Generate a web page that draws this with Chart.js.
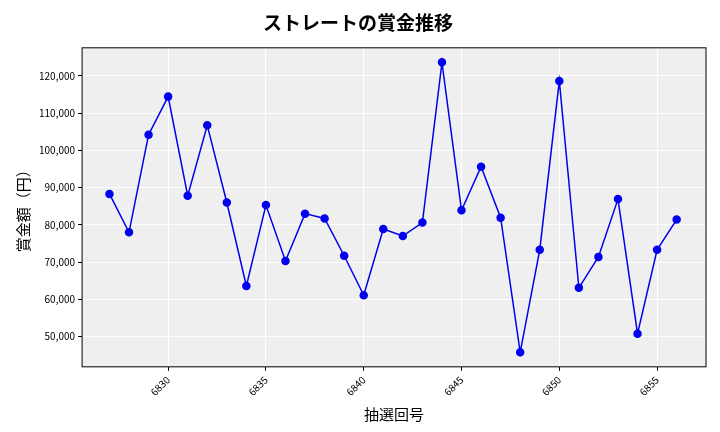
<!DOCTYPE html>
<html><head><meta charset="utf-8">
<script src="https://cdn.jsdelivr.net/npm/chart.js@4/dist/chart.umd.min.js"></script>
<style>body{margin:0;background:#fff}</style>
</head><body><canvas id="c" width="720" height="432"></canvas>
<script>
const draws = [6827,6828,6829,6830,6831,6832,6833,6834,6835,6836,6837,6838,6839,6840,6841,6842,6843,6844,6845,6846,6847,6848,6849,6850,6851,6852,6853,6854,6855,6856];
const prizes = [88300,78000,104200,114400,87800,106700,86000,63600,85300,70300,83000,81700,71700,61100,78900,77000,80600,123600,83900,95600,81900,45800,73300,118600,63100,71400,86900,50800,73300,81400];
const xTicks = [6830,6835,6840,6845,6850,6855];
const yTicks = [50000,60000,70000,80000,90000,100000,110000,120000];
const font = "'Noto Sans CJK JP', 'Noto Sans', sans-serif";

const plotBg = {
  id: 'plotBg',
  beforeDraw(chart) {
    const {ctx, chartArea: a} = chart;
    ctx.save();
    ctx.fillStyle = '#efefef';
    ctx.fillRect(a.left, a.top, a.width, a.height);
    ctx.restore();
  },
  afterDraw(chart) {
    const {ctx, chartArea: a} = chart;
    ctx.save();
    ctx.strokeStyle = '#000';
    ctx.lineWidth = 1;
    ctx.strokeRect(a.left, a.top, a.width, a.height);
    ctx.restore();
  }
};

new Chart(document.getElementById('c'), {
  type: 'line',
  data: {
    datasets: [{
      data: draws.map((d, i) => ({x: d, y: prizes[i]})),
      borderColor: '#0000ee',
      backgroundColor: '#0000ee',
      borderWidth: 1.5,
      pointRadius: 3.5,
      tension: 0
    }]
  },
  options: {
    responsive: false,
    animation: false,
    devicePixelRatio: 1,
    layout: {padding: {left: 10, right: 14, top: 5, bottom: 5}},
    plugins: {
      legend: {display: false},
      title: {display: true, text: 'ストレートの賞金推移', color: '#000',
        font: {family: font, size: 19, weight: 'bold'}, padding: {top: 6, bottom: 14}}
    },
    scales: {
      x: {
        type: 'linear', min: 6825.6, max: 6857.5,
        afterBuildTicks: s => { s.ticks = xTicks.map(v => ({value: v})); },
        ticks: {autoSkip: false, maxRotation: 45, minRotation: 45, color: '#000', font: {family: font, size: 10},
          callback: v => String(v)},
        grid: {color: '#fff', lineWidth: 1, drawTicks: true, tickColor: '#000', tickLength: 4},
        border: {display: false},
        title: {display: true, text: '抽選回号', color: '#000', font: {family: font, size: 15}}
      },
      y: {
        min: 41900, max: 127500,
        afterBuildTicks: s => { s.ticks = yTicks.map(v => ({value: v})); },
        ticks: {autoSkip: false, color: '#000', font: {family: font, size: 10},
          callback: v => v.toLocaleString('en-US')},
        grid: {color: '#fff', lineWidth: 1, tickColor: '#000', tickLength: 4},
        border: {display: false},
        title: {display: true, text: '賞金額（円）', color: '#000', font: {family: font, size: 15}}
      }
    }
  },
  plugins: [plotBg]
});
</script></body></html>
